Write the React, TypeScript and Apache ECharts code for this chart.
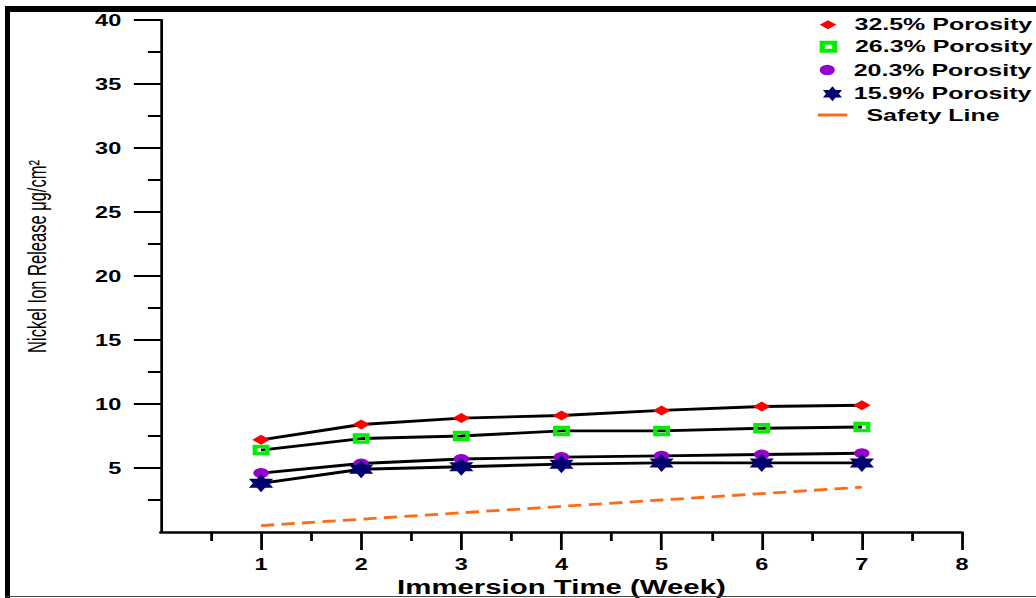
import React, { useEffect, useRef } from 'react';
import * as echarts from 'echarts';

// ---- data ----
const weeks = [1, 2, 3, 4, 5, 6, 7];
const porosity325 = [7.2, 8.4, 8.9, 9.1, 9.5, 9.8, 9.9];
const porosity263 = [6.4, 7.3, 7.5, 7.9, 7.9, 8.1, 8.2];
const porosity203 = [4.6, 5.35, 5.7, 5.85, 5.95, 6.05, 6.15];
const porosity159 = [3.8, 4.9, 5.1, 5.3, 5.4, 5.4, 5.4];
const safetyLine = [0.5, 1.0, 1.5, 2.0, 2.5, 3.0, 3.5];
const seriesNames = ['32.5% Porosity', '26.3% Porosity', '20.3% Porosity', '15.9% Porosity', 'Safety Line'];
const yMajorTicks = [5, 10, 15, 20, 25, 30, 35, 40];
const yMinorTicks = [2.5, 7.5, 12.5, 17.5, 22.5, 27.5, 32.5, 37.5];
const xMajorTicks = [1, 2, 3, 4, 5, 6, 7, 8];
const xMinorTicks = [0.5, 1.5, 2.5, 3.5, 4.5, 5.5, 6.5, 7.5];
const xAxisTitle = 'Immersion Time (Week)';
const yAxisTitle = 'Nickel Ion Release \u03bcg/cm\u00b2';

// ---- presentation ----
const PAGE_W = 1036;
const PAGE_H = 598;
const STRETCH = 1.4695;
const CHART_W = PAGE_W / STRETCH;
const FONT = "'Liberation Sans', Arial, Helvetica, sans-serif";

const STAR = 'path://M0,-10L2.887,-5L8.66,-5L5.774,0L8.66,5L2.887,5L0,10L-2.887,5L-8.66,5L-5.774,0L-8.66,-5L-2.887,-5Z';
const SQUARE_HOLE = 'path://M0,0H11V11H0Z M3,3.5V7.5H8V3.5Z';
const SQUARE_HOLE_ICON = 'path://M0,0H12V12H0Z M3.5,4V8H8.5V4Z';
const DIAMOND_ICON = 'path://M5.7,0L11.4,4.5L5.7,9L0,4.5Z';
const CIRCLE_ICON = 'path://M0,5A5,5,0,1,1,10,5A5,5,0,1,1,0,5Z';
const LINE_ICON = 'path://M0,0H20V3H0Z';

const pairs = (ys: number[]) => weeks.map((w, i) => [w, ys[i]]);

export default function App() {
  const ref = useRef<HTMLDivElement>(null);

  useEffect(() => {
    if (!ref.current) return;
    const chart = echarts.init(ref.current, undefined, { renderer: 'svg', width: CHART_W, height: PAGE_H });

    const markerColors = ['#ff0000', '#00ee00', '#9400d0', '#00006e', '#ff6a13'];
    const legendBase = {
      orient: 'horizontal',
      padding: 0,
      itemGap: 0,
      selectedMode: false,
      textStyle: { color: '#000', fontSize: 17, fontWeight: 'bold', fontFamily: FONT },
    };
    const legendRows = [
      { icon: DIAMOND_ICON, left: 557.8, top: 16.3, itemWidth: 26, itemHeight: 9 },
      { icon: SQUARE_HOLE_ICON, left: 557.8, top: 38.3, itemWidth: 26, itemHeight: 12 },
      { icon: CIRCLE_ICON, left: 557.8, top: 61.5, itemWidth: 26, itemHeight: 10.3 },
      { icon: STAR, left: 560, top: 85.2, itemWidth: 19, itemHeight: 15 },
      { icon: LINE_ICON, left: 556.6, top: 106.5, itemWidth: 36, itemHeight: 3 },
    ];

    const lineSeries = (name: string, data: number[], symbol: string, symbolSize: any, color: string) => ({
      name,
      type: 'line',
      xAxisIndex: 0,
      yAxisIndex: 0,
      data: pairs(data),
      symbol,
      symbolSize,
      symbolKeepAspect: false,
      showSymbol: true,
      itemStyle: { color, borderWidth: 0 },
      lineStyle: { color: '#000', width: 2.9 },
    });

    const axisFont = { color: '#000', fontSize: 16, fontWeight: 'bold', fontFamily: FONT };

    chart.setOption({
      animation: false,
      backgroundColor: '#ffffff',
      grid: {
        left: 160.9 / STRETCH,
        right: CHART_W - 962 / STRETCH,
        top: 20,
        bottom: 66,
        outerBoundsMode: 'none',
        containLabel: false,
      },
      xAxis: [
        {
          type: 'value', min: 0, max: 8, interval: 1, position: 'bottom',
          axisLine: { show: true, onZero: false, lineStyle: { color: '#000', width: 2.7 } },
          axisTick: { show: true, customValues: xMajorTicks, length: 18, lineStyle: { color: '#000', width: 1.9 } },
          axisLabel: { show: true, customValues: xMajorTicks, margin: 24, ...axisFont },
          splitLine: { show: false },
          name: xAxisTitle, nameLocation: 'middle', nameGap: 39,
          nameTextStyle: { color: '#000', fontSize: 20, fontWeight: 'bold', fontFamily: FONT },
        },
        {
          type: 'value', min: 0, max: 8, interval: 1, position: 'bottom',
          axisLine: { show: false },
          axisTick: { show: true, customValues: xMinorTicks, length: 9, lineStyle: { color: '#000', width: 1.9 } },
          axisLabel: { show: false },
          splitLine: { show: false },
        },
      ],
      yAxis: [
        {
          type: 'value', min: 0, max: 40, interval: 5, position: 'left',
          axisLine: { show: true, onZero: false, lineStyle: { color: '#000', width: 1.85 } },
          axisTick: { show: true, customValues: yMajorTicks, length: 18.4, lineStyle: { color: '#000', width: 2 } },
          axisLabel: { show: true, customValues: yMajorTicks, margin: 27, ...axisFont },
          splitLine: { show: false },
        },
        {
          type: 'value', min: 0, max: 40, interval: 5, position: 'left',
          axisLine: { show: false },
          axisTick: { show: true, customValues: yMinorTicks, length: 8.8, lineStyle: { color: '#000', width: 2 } },
          axisLabel: { show: false },
          splitLine: { show: false },
        },
      ],
      legend: legendRows.map((r, i) => ({
        ...legendBase,
        left: r.left,
        top: r.top,
        itemWidth: r.itemWidth,
        itemHeight: r.itemHeight,
        data: [{ name: seriesNames[i], icon: r.icon, itemStyle: { color: markerColors[i], borderWidth: 0 } }],
      })),
      graphic: [
        {
          type: 'text',
          x: 25.5,
          y: 256.5,
          rotation: Math.PI / 2,
          scaleY: 1.05,
          style: {
            text: yAxisTitle,
            fontSize: 16.5,
            fontFamily: FONT,
            fill: '#000',
            align: 'center',
            verticalAlign: 'middle',
          },
        },
      ],
      series: [
        lineSeries(seriesNames[0], porosity325, 'diamond', [12, 10], markerColors[0]),
        lineSeries(seriesNames[1], porosity263, SQUARE_HOLE, [11.5, 10.5], markerColors[1]),
        lineSeries(seriesNames[2], porosity203, 'circle', [10.5, 10], markerColors[2]),
        lineSeries(seriesNames[3], porosity159, STAR, [16.5, 18], markerColors[3]),
        {
          name: seriesNames[4],
          type: 'line',
          xAxisIndex: 0,
          yAxisIndex: 0,
          data: pairs(safetyLine),
          symbol: 'none',
          itemStyle: { color: markerColors[4] },
          lineStyle: { color: markerColors[4], width: 2.8, type: [9, 5] },
        },
      ],
    });

    return () => {
      chart.dispose();
    };
  }, []);

  const bar = (s: React.CSSProperties): React.CSSProperties => ({ position: 'absolute', pointerEvents: 'none', ...s });

  return (
    <div style={{ position: 'fixed', left: 0, top: 0, width: PAGE_W, height: PAGE_H, overflow: 'hidden', background: '#fff' }}>
      <div
        ref={ref}
        style={{
          position: 'absolute',
          left: 0,
          top: 0,
          width: CHART_W,
          height: PAGE_H,
          transform: `scaleX(${STRETCH})`,
          transformOrigin: '0 0',
        }}
      />
      <div style={bar({ left: 5, top: 6, width: PAGE_W - 5, height: 6, background: '#000' })} />
      <div style={bar({ left: 5, top: 6, width: 5, height: PAGE_H - 6, background: '#000' })} />
      <div style={bar({ left: 5, top: 596, width: PAGE_W - 5, height: 1, background: '#444' })} />
    </div>
  );
}
